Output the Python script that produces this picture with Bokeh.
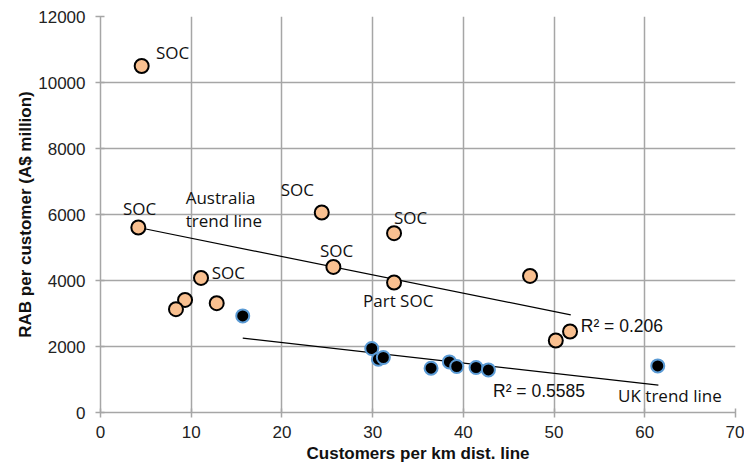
from bokeh.plotting import figure
from bokeh.models import Range1d, SingleIntervalTicker
from bokeh.core.properties import value
from bokeh.embed import file_html
from bokeh.resources import INLINE

# Australian networks
aus_x = [4.54, 4.17, 11.08, 9.32, 8.32, 12.81, 24.39, 25.67, 32.36, 32.36, 47.35, 50.19, 51.76]
aus_y = [10500, 5606, 4079, 3412, 3130, 3312, 6061, 4412, 5433, 3939, 4139, 2182, 2455]
# UK networks
uk_x = [15.68, 29.9, 30.63, 31.18, 36.44, 38.46, 39.27, 41.4, 42.76, 61.43]
uk_y = [2927, 1939, 1615, 1667, 1342, 1533, 1394, 1364, 1291, 1412]
# trend line end points
aus_trend_x = [4.17, 51.84]
aus_trend_y = [5606, 2958]
uk_trend_x = [15.68, 61.5]
uk_trend_y = [2252, 827]

# annotation labels
note_text = ["SOC", "SOC", "Australia", "trend line", "SOC", "SOC", "SOC", "SOC", "Part SOC"]
note_x = [6.12, 2.48, 9.39, 9.39, 19.87, 32.36, 24.2, 12.26, 28.94]
note_y = [10903, 6190, 6524, 5812, 6767, 5903, 4903, 4252, 3388]
r2_text = ["R² = 0.206", "R² = 0.5585"]
r2_x = [52.94, 43.27]
r2_y = [2630, 661]
uk_label = ["UK trend line"]
uk_label_x = [57.06]
uk_label_y = [509]

p = figure(width=744, height=467, output_backend="svg", toolbar_location=None,
           x_range=Range1d(0, 70), y_range=Range1d(0, 12000),
           min_border_left=100, min_border_right=9, min_border_top=16, min_border_bottom=55)
p.outline_line_color = None
p.background_fill_color = "white"
p.border_fill_color = "white"

grid_col = "#a6a6a6"
p.xaxis.ticker = SingleIntervalTicker(interval=10)
p.yaxis.ticker = SingleIntervalTicker(interval=2000)
p.xgrid.ticker = SingleIntervalTicker(interval=10)
p.ygrid.ticker = SingleIntervalTicker(interval=2000)
for g in (p.xgrid, p.ygrid):
    g.grid_line_color = grid_col
    g.grid_line_width = 1.5

for ax in (p.xaxis, p.yaxis):
    ax.axis_line_color = grid_col
    ax.axis_line_width = 1.5
    ax.major_tick_line_color = grid_col
    ax.major_tick_line_width = 1.5
    ax.major_tick_out = 5
    ax.major_tick_in = 4
    ax.minor_tick_line_color = None
    ax.major_label_text_font = "Liberation Sans"
    ax.major_label_text_font_size = "17px"
    ax.major_label_text_color = "#222222"
    ax.axis_label_text_font = "Liberation Sans"
    ax.axis_label_text_font_size = "17px"
    ax.axis_label_text_font_style = "bold"
    ax.axis_label_text_color = "#111111"

p.xaxis.major_label_standoff = 8
p.xaxis.axis_label_standoff = 3
p.yaxis.major_label_standoff = 10
p.yaxis.axis_label_standoff = 0
p.xaxis.axis_label = "Customers per km dist. line"
p.yaxis.axis_label = "RAB per customer (A$ million)"

# trend lines
p.line(aus_trend_x, aus_trend_y, line_color="black", line_width=1.2)
p.line(uk_trend_x, uk_trend_y, line_color="black", line_width=1.2)

# points
p.scatter(aus_x, aus_y, size=14, fill_color="#f9c090", line_color="black", line_width=2)
p.scatter(uk_x, uk_y, size=13, fill_color="black", line_color="#5b9bd5", line_width=2)

# annotations
p.text(note_x, note_y, text=note_text, text_font=value("Open Sans"), text_font_size="17px",
       text_color="#111111", text_baseline="middle", text_align="left")
p.text(r2_x, r2_y, text=r2_text, text_font=value("Liberation Sans"), text_font_size="17.5px",
       text_color="#111111", text_baseline="middle", text_align="left")
p.text(uk_label_x, uk_label_y, text=uk_label, text_font=value("Open Sans"), text_font_size="17px",
       text_color="#111111", text_baseline="middle", text_align="left")

open("out.html", "w").write(file_html(p, INLINE))
